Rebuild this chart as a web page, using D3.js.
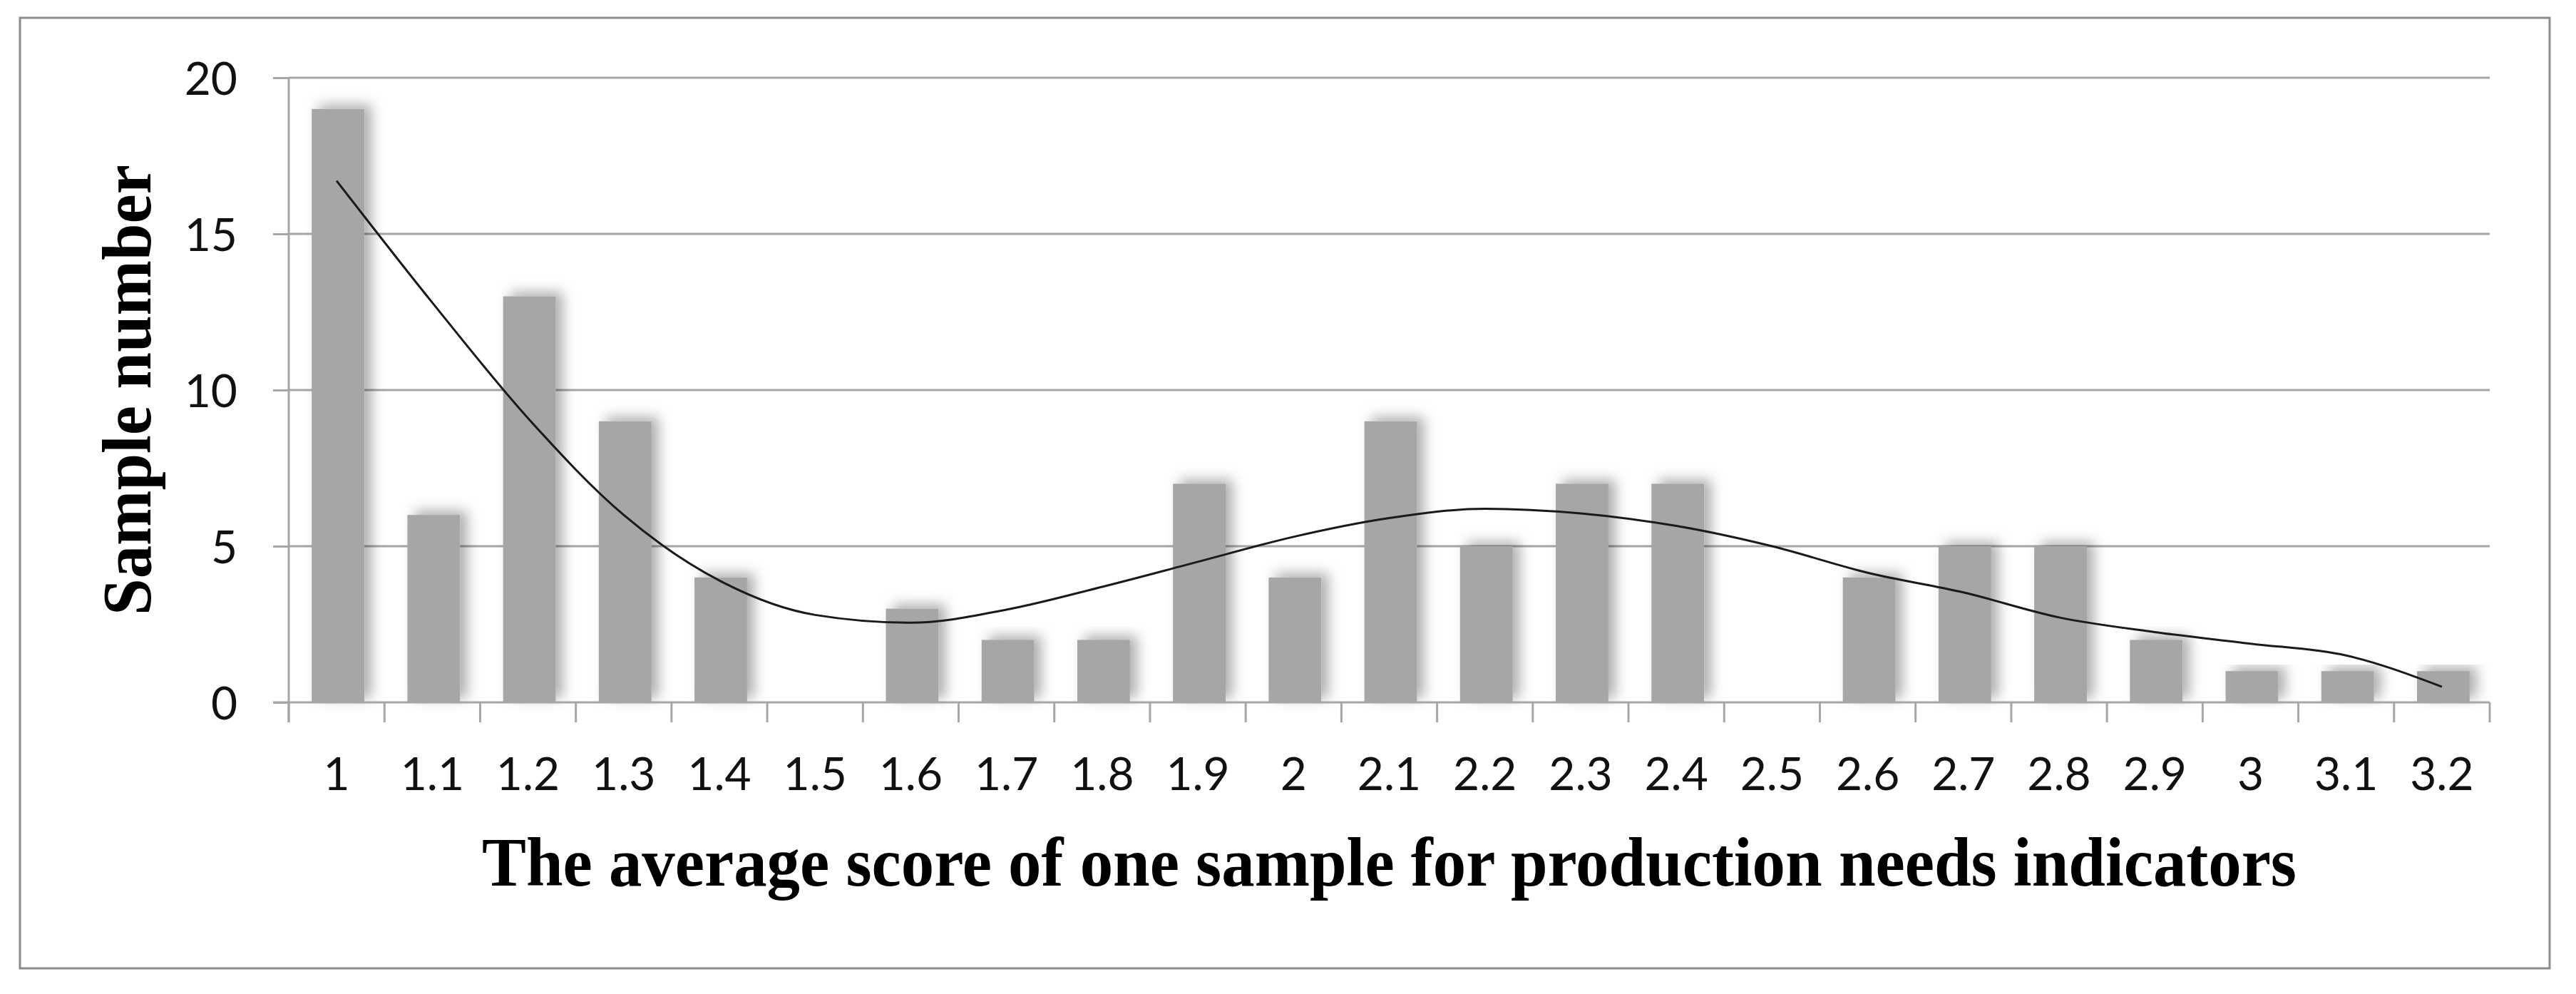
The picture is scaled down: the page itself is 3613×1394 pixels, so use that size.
<!DOCTYPE html>
<html>
<head>
<meta charset="utf-8">
<script src="https://cdn.jsdelivr.net/npm/d3@7"></script>
<style>
  html, body { margin: 0; padding: 0; background: #ffffff; }
  svg { display: block; }
</style>
</head>
<body>
<svg id="chart" width="3613" height="1394"></svg>
<script>
// ---- data ----
const categories = ["1","1.1","1.2","1.3","1.4","1.5","1.6","1.7","1.8","1.9","2","2.1","2.2","2.3","2.4","2.5","2.6","2.7","2.8","2.9","3","3.1","3.2"];
const sampleCounts = [19,6,13,9,4,0,3,2,2,7,4,9,5,7,7,0,4,5,5,2,1,1,1];
const trendValues = [16.7,12.8,9.1,6.0,3.9,2.8,2.55,2.97,3.7,4.5,5.3,5.9,6.2,6.05,5.65,5.0,4.15,3.52,2.72,2.25,1.88,1.5,0.5];
const yTicks = [0,5,10,15,20];
const yTitle = "Sample number";
const xTitle = "The average score of one sample for production needs indicators";

// ---- layout ----
const W = 3613, H = 1394;
const plot = { left: 405, right: 3492, top: 109, bottom: 985 };

const svg = d3.select("#chart");

const defs = svg.append("defs");
const f = defs.append("filter").attr("id", "barShadow")
  .attr("x", "-60%").attr("y", "-20%").attr("width", "220%").attr("height", "140%");
f.append("feDropShadow")
  .attr("dx", 10).attr("dy", -6).attr("stdDeviation", 9)
  .attr("flood-color", "#000").attr("flood-opacity", 0.32);

// outer border
svg.append("rect")
  .attr("x", 28).attr("y", 25)
  .attr("width", 3576 - 28).attr("height", 1358 - 25)
  .attr("fill", "#ffffff").attr("stroke", "#8c8c8c").attr("stroke-width", 3);

const x = d3.scaleBand().domain(categories).range([plot.left, plot.right]).padding(0);
const y = d3.scaleLinear().domain([0, 20]).range([plot.bottom, plot.top]);

// gridlines
svg.append("g").selectAll("line").data(yTicks.filter(d => d > 0)).join("line")
  .attr("x1", plot.left).attr("x2", plot.right)
  .attr("y1", d => y(d)).attr("y2", d => y(d))
  .attr("stroke", "#a6a6a6").attr("stroke-width", 3);

// bars
const bw = x.bandwidth();
const data = categories.map((c, i) => ({ c, v: sampleCounts[i], t: trendValues[i] }));
svg.append("g").selectAll("rect").data(data.filter(d => d.v > 0)).join("rect")
  .attr("x", d => x(d.c) + bw * 0.24)
  .attr("width", bw * 0.55)
  .attr("y", d => y(d.v))
  .attr("height", d => y(0) - y(d.v))
  .attr("fill", "#a6a6a6")
  .attr("filter", "url(#barShadow)");

// y axis
const yAxis = svg.append("g")
  .attr("transform", `translate(${plot.left},0)`)
  .call(d3.axisLeft(y).tickValues(yTicks).tickSize(22).tickPadding(50).tickFormat(d3.format("d")));
yAxis.select(".domain").remove();
yAxis.selectAll(".tick line").attr("stroke", "#a6a6a6").attr("stroke-width", 3);
yAxis.selectAll(".tick text")
  .attr("font-family", "Lato, 'Open Sans', sans-serif")
  .attr("font-size", 64).attr("fill", "#111").attr("dy", "0.36em");
svg.append("line")
  .attr("x1", plot.left).attr("x2", plot.left)
  .attr("y1", plot.top).attr("y2", plot.bottom + 28)
  .attr("stroke", "#a6a6a6").attr("stroke-width", 3);

// x axis
const xAxis = svg.append("g")
  .attr("transform", `translate(0,${plot.bottom})`)
  .call(d3.axisBottom(x).tickSize(0).tickPadding(78));
xAxis.select(".domain").remove();
xAxis.selectAll(".tick text")
  .attr("font-family", "Lato, 'Open Sans', sans-serif")
  .attr("font-size", 64).attr("fill", "#111");
svg.append("line")
  .attr("x1", plot.left - 22).attr("x2", plot.right)
  .attr("y1", plot.bottom).attr("y2", plot.bottom)
  .attr("stroke", "#a6a6a6").attr("stroke-width", 3);
const edges = categories.map(c => x(c)).concat([x.range()[1]]);
svg.append("g").selectAll("line").data(edges).join("line")
  .attr("x1", d => d).attr("x2", d => d)
  .attr("y1", plot.bottom).attr("y2", plot.bottom + 28)
  .attr("stroke", "#a6a6a6").attr("stroke-width", 3);

// trend line
const line = d3.line()
  .x(d => x(d.c) + bw / 2)
  .y(d => y(d.t))
  .curve(d3.curveMonotoneX);
svg.append("path").datum(data)
  .attr("d", line)
  .attr("fill", "none").attr("stroke", "#1a1a1a").attr("stroke-width", 3);

// titles
svg.append("text")
  .attr("x", (plot.left + plot.right) / 2).attr("y", 1242)
  .attr("text-anchor", "middle")
  .attr("font-family", "'Liberation Serif', 'Times New Roman', serif")
  .attr("font-weight", "bold").attr("font-size", 97).attr("fill", "#000")
  .attr("textLength", 2545).attr("lengthAdjust", "spacingAndGlyphs")
  .text(xTitle);

svg.append("text")
  .attr("transform", `translate(211,${(plot.top + plot.bottom) / 2}) rotate(-90)`)
  .attr("text-anchor", "middle")
  .attr("font-family", "'Liberation Serif', 'Times New Roman', serif")
  .attr("font-weight", "bold").attr("font-size", 97).attr("fill", "#000")
  .attr("textLength", 632).attr("lengthAdjust", "spacingAndGlyphs")
  .text(yTitle);
</script>
</body>
</html>
